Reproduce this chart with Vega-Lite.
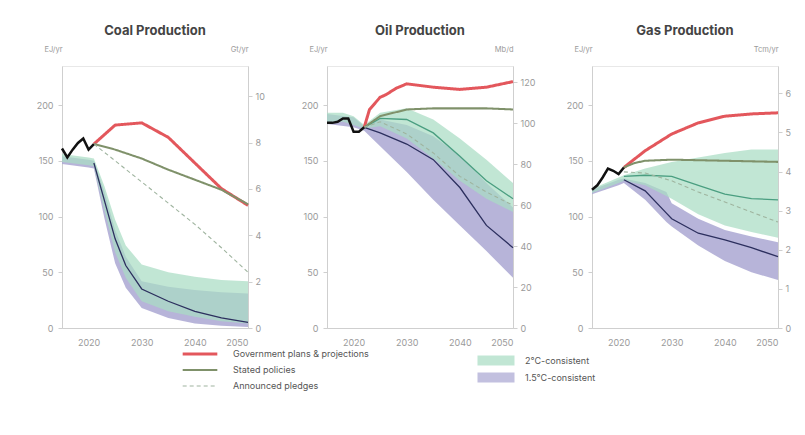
{
  "$schema": "https://vega.github.io/schema/vega-lite/v6.json",
  "padding": {"left": 35, "top": 24, "right": 10, "bottom": 5},
  "background": "white",
  "bounds": "flush",
  "spacing": 79,
  "config": {
    "font": "Inter",
    "view": {"stroke": "#e8e8e8", "strokeWidth": 1},
    "axis": {"grid": false, "domainColor": "#cfcfcf", "tickColor": "#cfcfcf", "labelColor": "#9a9a9a", "labelFontSize": 9, "labelFont": "Inter", "titleFont": "Inter", "titleFontSize": 7.5, "titleFontWeight": "normal", "titleColor": "#9a9a9a", "tickSize": 4},
    "title": {"font": "Inter", "fontSize": 13, "fontWeight": "bold", "color": "#444444", "anchor": "middle", "offset": 7},
    "legend": {"labelFont": "Inter", "labelFontSize": 9, "labelColor": "#555555", "labelLimit": 300}
  },
  "datasets": {
    "hist": [
      {"p": "Coal", "year": 2015, "v": 161}, {"p": "Coal", "year": 2016, "v": 153}, {"p": "Coal", "year": 2017, "v": 160}, {"p": "Coal", "year": 2018, "v": 166}, {"p": "Coal", "year": 2019, "v": 170}, {"p": "Coal", "year": 2020, "v": 160}, {"p": "Coal", "year": 2021, "v": 165},
      {"p": "Oil", "year": 2015, "v": 184}, {"p": "Oil", "year": 2016, "v": 184}, {"p": "Oil", "year": 2017, "v": 185}, {"p": "Oil", "year": 2018, "v": 188}, {"p": "Oil", "year": 2019, "v": 188}, {"p": "Oil", "year": 2020, "v": 176}, {"p": "Oil", "year": 2021, "v": 176}, {"p": "Oil", "year": 2022, "v": 180},
      {"p": "Gas", "year": 2015, "v": 124}, {"p": "Gas", "year": 2016, "v": 128}, {"p": "Gas", "year": 2017, "v": 135}, {"p": "Gas", "year": 2018, "v": 143}, {"p": "Gas", "year": 2019, "v": 141}, {"p": "Gas", "year": 2020, "v": 138}, {"p": "Gas", "year": 2021, "v": 144}
    ],
    "lines": [
      {"p": "Coal", "s": "Government plans & projections", "year": 2021, "v": 165}, {"p": "Coal", "s": "Government plans & projections", "year": 2025, "v": 182}, {"p": "Coal", "s": "Government plans & projections", "year": 2030, "v": 184}, {"p": "Coal", "s": "Government plans & projections", "year": 2035, "v": 171}, {"p": "Coal", "s": "Government plans & projections", "year": 2040, "v": 148}, {"p": "Coal", "s": "Government plans & projections", "year": 2045, "v": 125}, {"p": "Coal", "s": "Government plans & projections", "year": 2050, "v": 110},
      {"p": "Coal", "s": "Stated policies", "year": 2021, "v": 165}, {"p": "Coal", "s": "Stated policies", "year": 2025, "v": 160}, {"p": "Coal", "s": "Stated policies", "year": 2030, "v": 152}, {"p": "Coal", "s": "Stated policies", "year": 2035, "v": 142}, {"p": "Coal", "s": "Stated policies", "year": 2040, "v": 133}, {"p": "Coal", "s": "Stated policies", "year": 2045, "v": 124}, {"p": "Coal", "s": "Stated policies", "year": 2050, "v": 111},
      {"p": "Coal", "s": "Announced pledges", "year": 2021, "v": 165}, {"p": "Coal", "s": "Announced pledges", "year": 2025, "v": 150}, {"p": "Coal", "s": "Announced pledges", "year": 2030, "v": 131}, {"p": "Coal", "s": "Announced pledges", "year": 2035, "v": 112}, {"p": "Coal", "s": "Announced pledges", "year": 2040, "v": 93}, {"p": "Coal", "s": "Announced pledges", "year": 2045, "v": 72}, {"p": "Coal", "s": "Announced pledges", "year": 2050, "v": 50},
      {"p": "Oil", "s": "Government plans & projections", "year": 2022, "v": 180}, {"p": "Oil", "s": "Government plans & projections", "year": 2023, "v": 196}, {"p": "Oil", "s": "Government plans & projections", "year": 2025, "v": 207}, {"p": "Oil", "s": "Government plans & projections", "year": 2026, "v": 209}, {"p": "Oil", "s": "Government plans & projections", "year": 2028, "v": 215}, {"p": "Oil", "s": "Government plans & projections", "year": 2030, "v": 219}, {"p": "Oil", "s": "Government plans & projections", "year": 2035, "v": 216}, {"p": "Oil", "s": "Government plans & projections", "year": 2040, "v": 214}, {"p": "Oil", "s": "Government plans & projections", "year": 2045, "v": 216}, {"p": "Oil", "s": "Government plans & projections", "year": 2050, "v": 221},
      {"p": "Oil", "s": "Stated policies", "year": 2022, "v": 180}, {"p": "Oil", "s": "Stated policies", "year": 2025, "v": 190}, {"p": "Oil", "s": "Stated policies", "year": 2030, "v": 196}, {"p": "Oil", "s": "Stated policies", "year": 2035, "v": 197}, {"p": "Oil", "s": "Stated policies", "year": 2040, "v": 197}, {"p": "Oil", "s": "Stated policies", "year": 2045, "v": 197}, {"p": "Oil", "s": "Stated policies", "year": 2050, "v": 196},
      {"p": "Oil", "s": "Announced pledges", "year": 2022, "v": 180}, {"p": "Oil", "s": "Announced pledges", "year": 2025, "v": 185}, {"p": "Oil", "s": "Announced pledges", "year": 2030, "v": 174}, {"p": "Oil", "s": "Announced pledges", "year": 2035, "v": 157}, {"p": "Oil", "s": "Announced pledges", "year": 2040, "v": 136}, {"p": "Oil", "s": "Announced pledges", "year": 2045, "v": 122}, {"p": "Oil", "s": "Announced pledges", "year": 2050, "v": 110},
      {"p": "Gas", "s": "Government plans & projections", "year": 2021, "v": 144}, {"p": "Gas", "s": "Government plans & projections", "year": 2025, "v": 159}, {"p": "Gas", "s": "Government plans & projections", "year": 2030, "v": 174}, {"p": "Gas", "s": "Government plans & projections", "year": 2035, "v": 184}, {"p": "Gas", "s": "Government plans & projections", "year": 2040, "v": 190}, {"p": "Gas", "s": "Government plans & projections", "year": 2045, "v": 192}, {"p": "Gas", "s": "Government plans & projections", "year": 2050, "v": 193},
      {"p": "Gas", "s": "Stated policies", "year": 2021, "v": 144}, {"p": "Gas", "s": "Stated policies", "year": 2023, "v": 148}, {"p": "Gas", "s": "Stated policies", "year": 2025, "v": 150}, {"p": "Gas", "s": "Stated policies", "year": 2030, "v": 151}, {"p": "Gas", "s": "Stated policies", "year": 2040, "v": 150}, {"p": "Gas", "s": "Stated policies", "year": 2050, "v": 149},
      {"p": "Gas", "s": "Announced pledges", "year": 2021, "v": 140}, {"p": "Gas", "s": "Announced pledges", "year": 2025, "v": 139}, {"p": "Gas", "s": "Announced pledges", "year": 2030, "v": 132}, {"p": "Gas", "s": "Announced pledges", "year": 2035, "v": 122}, {"p": "Gas", "s": "Announced pledges", "year": 2040, "v": 113}, {"p": "Gas", "s": "Announced pledges", "year": 2045, "v": 104}, {"p": "Gas", "s": "Announced pledges", "year": 2050, "v": 95}
    ],
    "bands": [
      {"p": "Coal", "sc": "2°C-consistent", "year": 2015, "lo": 149, "hi": 156}, {"p": "Coal", "sc": "2°C-consistent", "year": 2020, "lo": 146, "hi": 153}, {"p": "Coal", "sc": "2°C-consistent", "year": 2021, "lo": 145, "hi": 152}, {"p": "Coal", "sc": "2°C-consistent", "year": 2023, "lo": 105, "hi": 127}, {"p": "Coal", "sc": "2°C-consistent", "year": 2025, "lo": 68, "hi": 97}, {"p": "Coal", "sc": "2°C-consistent", "year": 2027, "lo": 45, "hi": 74}, {"p": "Coal", "sc": "2°C-consistent", "year": 2030, "lo": 24, "hi": 57}, {"p": "Coal", "sc": "2°C-consistent", "year": 2035, "lo": 15, "hi": 50}, {"p": "Coal", "sc": "2°C-consistent", "year": 2040, "lo": 10, "hi": 46}, {"p": "Coal", "sc": "2°C-consistent", "year": 2045, "lo": 6, "hi": 43}, {"p": "Coal", "sc": "2°C-consistent", "year": 2050, "lo": 4, "hi": 42},
      {"p": "Coal", "sc": "1.5°C-consistent", "year": 2015, "lo": 147, "hi": 154}, {"p": "Coal", "sc": "1.5°C-consistent", "year": 2020, "lo": 144, "hi": 151}, {"p": "Coal", "sc": "1.5°C-consistent", "year": 2021, "lo": 143, "hi": 150, "med": 148}, {"p": "Coal", "sc": "1.5°C-consistent", "year": 2023, "lo": 98, "hi": 122, "med": 114}, {"p": "Coal", "sc": "1.5°C-consistent", "year": 2025, "lo": 58, "hi": 88, "med": 80}, {"p": "Coal", "sc": "1.5°C-consistent", "year": 2027, "lo": 36, "hi": 64, "med": 56}, {"p": "Coal", "sc": "1.5°C-consistent", "year": 2030, "lo": 18, "hi": 42, "med": 35}, {"p": "Coal", "sc": "1.5°C-consistent", "year": 2035, "lo": 9, "hi": 37, "med": 24}, {"p": "Coal", "sc": "1.5°C-consistent", "year": 2040, "lo": 4, "hi": 34, "med": 15}, {"p": "Coal", "sc": "1.5°C-consistent", "year": 2045, "lo": 2, "hi": 32, "med": 9}, {"p": "Coal", "sc": "1.5°C-consistent", "year": 2050, "lo": 1, "hi": 31, "med": 5},
      {"p": "Oil", "sc": "2°C-consistent", "year": 2015, "lo": 184, "hi": 193}, {"p": "Oil", "sc": "2°C-consistent", "year": 2018, "lo": 185, "hi": 193}, {"p": "Oil", "sc": "2°C-consistent", "year": 2020, "lo": 182, "hi": 190}, {"p": "Oil", "sc": "2°C-consistent", "year": 2022, "lo": 179, "hi": 182, "med": 180}, {"p": "Oil", "sc": "2°C-consistent", "year": 2025, "lo": 181, "hi": 193, "med": 188}, {"p": "Oil", "sc": "2°C-consistent", "year": 2030, "lo": 170, "hi": 197, "med": 187}, {"p": "Oil", "sc": "2°C-consistent", "year": 2035, "lo": 152, "hi": 187, "med": 175}, {"p": "Oil", "sc": "2°C-consistent", "year": 2040, "lo": 132, "hi": 170, "med": 154}, {"p": "Oil", "sc": "2°C-consistent", "year": 2045, "lo": 116, "hi": 151, "med": 132}, {"p": "Oil", "sc": "2°C-consistent", "year": 2050, "lo": 104, "hi": 130, "med": 116},
      {"p": "Oil", "sc": "1.5°C-consistent", "year": 2015, "lo": 183, "hi": 192}, {"p": "Oil", "sc": "1.5°C-consistent", "year": 2020, "lo": 180, "hi": 189}, {"p": "Oil", "sc": "1.5°C-consistent", "year": 2022, "lo": 177, "hi": 181, "med": 180}, {"p": "Oil", "sc": "1.5°C-consistent", "year": 2025, "lo": 163, "hi": 187, "med": 175}, {"p": "Oil", "sc": "1.5°C-consistent", "year": 2030, "lo": 140, "hi": 182, "med": 165}, {"p": "Oil", "sc": "1.5°C-consistent", "year": 2035, "lo": 115, "hi": 172, "med": 151}, {"p": "Oil", "sc": "1.5°C-consistent", "year": 2040, "lo": 92, "hi": 155, "med": 126}, {"p": "Oil", "sc": "1.5°C-consistent", "year": 2045, "lo": 69, "hi": 130, "med": 92}, {"p": "Oil", "sc": "1.5°C-consistent", "year": 2050, "lo": 45, "hi": 108, "med": 72},
      {"p": "Gas", "sc": "2°C-consistent", "year": 2015, "lo": 121, "hi": 125}, {"p": "Gas", "sc": "2°C-consistent", "year": 2020, "lo": 130, "hi": 135}, {"p": "Gas", "sc": "2°C-consistent", "year": 2021, "lo": 132, "hi": 137, "med": 136}, {"p": "Gas", "sc": "2°C-consistent", "year": 2025, "lo": 128, "hi": 143, "med": 137}, {"p": "Gas", "sc": "2°C-consistent", "year": 2030, "lo": 116, "hi": 149, "med": 136}, {"p": "Gas", "sc": "2°C-consistent", "year": 2035, "lo": 102, "hi": 153, "med": 128}, {"p": "Gas", "sc": "2°C-consistent", "year": 2040, "lo": 92, "hi": 157, "med": 120}, {"p": "Gas", "sc": "2°C-consistent", "year": 2045, "lo": 86, "hi": 160, "med": 116}, {"p": "Gas", "sc": "2°C-consistent", "year": 2050, "lo": 81, "hi": 160, "med": 115},
      {"p": "Gas", "sc": "1.5°C-consistent", "year": 2015, "lo": 120, "hi": 124}, {"p": "Gas", "sc": "1.5°C-consistent", "year": 2020, "lo": 128, "hi": 133}, {"p": "Gas", "sc": "1.5°C-consistent", "year": 2021, "lo": 130, "hi": 134, "med": 133}, {"p": "Gas", "sc": "1.5°C-consistent", "year": 2025, "lo": 115, "hi": 130, "med": 123}, {"p": "Gas", "sc": "1.5°C-consistent", "year": 2029, "lo": 95, "hi": 122, "med": 103}, {"p": "Gas", "sc": "1.5°C-consistent", "year": 2030, "lo": 91, "hi": 112, "med": 98}, {"p": "Gas", "sc": "1.5°C-consistent", "year": 2035, "lo": 74, "hi": 98, "med": 85}, {"p": "Gas", "sc": "1.5°C-consistent", "year": 2040, "lo": 60, "hi": 88, "med": 79}, {"p": "Gas", "sc": "1.5°C-consistent", "year": 2045, "lo": 50, "hi": 82, "med": 72}, {"p": "Gas", "sc": "1.5°C-consistent", "year": 2050, "lo": 43, "hi": 77, "med": 64}
    ]
  },
  "resolve": {"scale": {"color": "shared", "fill": "shared", "stroke": "shared", "strokeDash": "shared", "strokeWidth": "shared"}},
  "hconcat": [
    {
      "width": 186, "height": 262,
      "title": "Coal Production",
      "resolve": {"scale": {"y": "independent"}},
      "layer": [
        {
          "encoding": {"x": {"field": "year", "type": "quantitative", "scale": {"domain": [2015, 2050], "nice": false, "zero": false}, "axis": {"values": [2020, 2030, 2040, 2050], "format": "d", "title": null, "ticks": false, "labelPadding": 10}}},
          "layer": [
            {"data": {"name": "bands"}, "transform": [{"filter": "datum.p === 'Coal' && datum.sc === '1.5°C-consistent'"}], "mark": {"type": "area", "opacity": 0.85},
             "encoding": {"y": {"field": "lo", "type": "quantitative", "scale": {"domain": [0, 235], "nice": false}, "axis": {"values": [0, 50, 100, 150, 200], "title": "EJ/yr", "titleAngle": 0, "titleAlign": "right", "titleBaseline": "bottom", "titleX": 0, "titleY": -13, "labelPadding": 5}}, "y2": {"field": "hi"},
               "fill": {"field": "sc", "type": "nominal", "scale": {"domain": ["2°C-consistent", "1.5°C-consistent"], "range": ["#a9dcc3", "#aaa7d2"]}, "legend": {"title": null, "orient": "none", "legendX": 415, "legendY": 289, "symbolType": "M-1,-0.27H1V0.27H-1Z", "symbolSize": 1370, "symbolOpacity": 0.9, "symbolStrokeWidth": 0, "labelOffset": 10, "clipHeight": 11, "rowPadding": 6}}}},
            {"data": {"name": "bands"}, "transform": [{"filter": "datum.p === 'Coal' && datum.sc === '2°C-consistent'"}], "mark": {"type": "area", "opacity": 0.72},
             "encoding": {"y": {"field": "lo", "type": "quantitative"}, "y2": {"field": "hi"}, "fill": {"field": "sc", "type": "nominal"}}},
            {"data": {"name": "bands"}, "transform": [{"filter": "datum.p === 'Coal'"}], "mark": {"type": "line", "strokeWidth": 1.3},
             "encoding": {"y": {"field": "med", "type": "quantitative"}, "stroke": {"field": "sc", "type": "nominal", "scale": {"domain": ["2°C-consistent", "1.5°C-consistent"], "range": ["#4a9e80", "#2c2f5e"]}, "legend": null}}},
            {"data": {"name": "lines"}, "transform": [{"filter": "datum.p === 'Coal'"}], "mark": {"type": "line"},
             "encoding": {"y": {"field": "v", "type": "quantitative"},
               "color": {"field": "s", "type": "nominal", "scale": {"domain": ["Government plans & projections", "Stated policies", "Announced pledges"], "range": ["#e3575c", "#7f916a", "#9fb49f"]}, "legend": {"title": null, "orient": "none", "legendX": 119, "legendY": 283, "symbolType": "stroke", "symbolSize": 1200, "labelOffset": 14, "clipHeight": 10, "rowPadding": 6}},
               "strokeDash": {"field": "s", "type": "nominal", "scale": {"domain": ["Government plans & projections", "Stated policies", "Announced pledges"], "range": [[1, 0], [1, 0], [4, 3]]}},
               "strokeWidth": {"field": "s", "type": "nominal", "scale": {"domain": ["Government plans & projections", "Stated policies", "Announced pledges"], "range": [3, 1.1, 1.5]}}}},
            {"data": {"name": "hist"}, "transform": [{"filter": "datum.p === 'Coal'"}], "mark": {"type": "line", "color": "#111111", "strokeWidth": 2.5},
             "encoding": {"y": {"field": "v", "type": "quantitative"}}}
          ]
        },
        {"data": {"values": [{}]}, "mark": {"type": "rule", "opacity": 0},
         "encoding": {"y": {"datum": 0, "type": "quantitative", "scale": {"domain": [0, 11.3], "nice": false}, "axis": {"orient": "right", "values": [0, 2, 4, 6, 8, 10], "title": "Gt/yr", "titleAngle": 0, "titleAlign": "right", "titleBaseline": "bottom", "titleX": 0, "titleY": -13, "labelPadding": 3}}}}
      ]
    },
    {
      "width": 186, "height": 262,
      "title": "Oil Production",
      "resolve": {"scale": {"y": "independent"}},
      "layer": [
        {
          "encoding": {"x": {"field": "year", "type": "quantitative", "scale": {"domain": [2015, 2050], "nice": false, "zero": false}, "axis": {"values": [2020, 2030, 2040, 2050], "format": "d", "title": null, "ticks": false, "labelPadding": 10}}},
          "layer": [
            {"data": {"name": "bands"}, "transform": [{"filter": "datum.p === 'Oil' && datum.sc === '1.5°C-consistent'"}], "mark": {"type": "area", "opacity": 0.85},
             "encoding": {"y": {"field": "lo", "type": "quantitative", "scale": {"domain": [0, 235], "nice": false}, "axis": {"values": [0, 50, 100, 150, 200], "title": "EJ/yr", "titleAngle": 0, "titleAlign": "right", "titleBaseline": "bottom", "titleX": 0, "titleY": -13, "labelPadding": 5}}, "y2": {"field": "hi"}, "fill": {"field": "sc", "type": "nominal"}}},
            {"data": {"name": "bands"}, "transform": [{"filter": "datum.p === 'Oil' && datum.sc === '2°C-consistent'"}], "mark": {"type": "area", "opacity": 0.72},
             "encoding": {"y": {"field": "lo", "type": "quantitative"}, "y2": {"field": "hi"}, "fill": {"field": "sc", "type": "nominal"}}},
            {"data": {"name": "bands"}, "transform": [{"filter": "datum.p === 'Oil'"}], "mark": {"type": "line", "strokeWidth": 1.3},
             "encoding": {"y": {"field": "med", "type": "quantitative"}, "stroke": {"field": "sc", "type": "nominal", "legend": null}}},
            {"data": {"name": "lines"}, "transform": [{"filter": "datum.p === 'Oil'"}], "mark": {"type": "line"},
             "encoding": {"y": {"field": "v", "type": "quantitative"}, "color": {"field": "s", "type": "nominal"}, "strokeDash": {"field": "s", "type": "nominal"}, "strokeWidth": {"field": "s", "type": "nominal"}}},
            {"data": {"name": "hist"}, "transform": [{"filter": "datum.p === 'Oil'"}], "mark": {"type": "line", "color": "#111111", "strokeWidth": 2.5},
             "encoding": {"y": {"field": "v", "type": "quantitative"}}}
          ]
        },
        {"data": {"values": [{}]}, "mark": {"type": "rule", "opacity": 0},
         "encoding": {"y": {"datum": 0, "type": "quantitative", "scale": {"domain": [0, 128], "nice": false}, "axis": {"orient": "right", "values": [0, 20, 40, 60, 80, 100, 120], "title": "Mb/d", "titleAngle": 0, "titleAlign": "right", "titleBaseline": "bottom", "titleX": 0, "titleY": -13, "labelPadding": 3}}}}
      ]
    },
    {
      "width": 186, "height": 262,
      "title": "Gas Production",
      "resolve": {"scale": {"y": "independent"}},
      "layer": [
        {
          "encoding": {"x": {"field": "year", "type": "quantitative", "scale": {"domain": [2015, 2050], "nice": false, "zero": false}, "axis": {"values": [2020, 2030, 2040, 2050], "format": "d", "title": null, "ticks": false, "labelPadding": 10}}},
          "layer": [
            {"data": {"name": "bands"}, "transform": [{"filter": "datum.p === 'Gas' && datum.sc === '1.5°C-consistent'"}], "mark": {"type": "area", "opacity": 0.85},
             "encoding": {"y": {"field": "lo", "type": "quantitative", "scale": {"domain": [0, 235], "nice": false}, "axis": {"values": [0, 50, 100, 150, 200], "title": "EJ/yr", "titleAngle": 0, "titleAlign": "right", "titleBaseline": "bottom", "titleX": 0, "titleY": -13, "labelPadding": 5}}, "y2": {"field": "hi"}, "fill": {"field": "sc", "type": "nominal"}}},
            {"data": {"name": "bands"}, "transform": [{"filter": "datum.p === 'Gas' && datum.sc === '2°C-consistent'"}], "mark": {"type": "area", "opacity": 0.72},
             "encoding": {"y": {"field": "lo", "type": "quantitative"}, "y2": {"field": "hi"}, "fill": {"field": "sc", "type": "nominal"}}},
            {"data": {"name": "bands"}, "transform": [{"filter": "datum.p === 'Gas'"}], "mark": {"type": "line", "strokeWidth": 1.3},
             "encoding": {"y": {"field": "med", "type": "quantitative"}, "stroke": {"field": "sc", "type": "nominal", "legend": null}}},
            {"data": {"name": "lines"}, "transform": [{"filter": "datum.p === 'Gas'"}], "mark": {"type": "line"},
             "encoding": {"y": {"field": "v", "type": "quantitative"}, "color": {"field": "s", "type": "nominal"}, "strokeDash": {"field": "s", "type": "nominal"}, "strokeWidth": {"field": "s", "type": "nominal"}}},
            {"data": {"name": "hist"}, "transform": [{"filter": "datum.p === 'Gas'"}], "mark": {"type": "line", "color": "#111111", "strokeWidth": 2.5},
             "encoding": {"y": {"field": "v", "type": "quantitative"}}}
          ]
        },
        {"data": {"values": [{}]}, "mark": {"type": "rule", "opacity": 0},
         "encoding": {"y": {"datum": 0, "type": "quantitative", "scale": {"domain": [0, 6.7], "nice": false}, "axis": {"orient": "right", "values": [0, 1, 2, 3, 4, 5, 6], "title": "Tcm/yr", "titleAngle": 0, "titleAlign": "right", "titleBaseline": "bottom", "titleX": 0, "titleY": -13, "labelPadding": 3}}}}
      ]
    }
  ]
}
